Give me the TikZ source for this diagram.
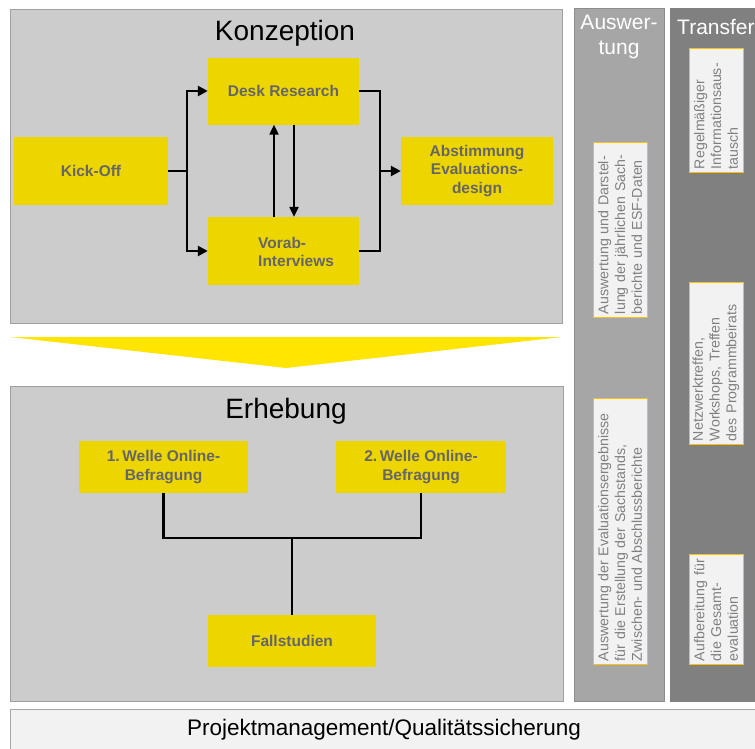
\documentclass[tikz,border=0pt]{standalone}
\usepackage{fontspec}
\setmainfont{Liberation Sans}
\usetikzlibrary{arrows.meta}
\definecolor{panelbg}{HTML}{CCCCCC}
\definecolor{panelbd}{HTML}{A0A0A0}
\definecolor{yfill}{HTML}{EDD500}
\definecolor{ytext}{HTML}{666666}
\definecolor{chev}{HTML}{FFE500}
\definecolor{auscol}{HTML}{A6A6A6}
\definecolor{auscolbd}{HTML}{8C8C8C}
\definecolor{trcol}{HTML}{808080}
\definecolor{notebg}{HTML}{F2F2F2}
\definecolor{notebd}{HTML}{FFC000}
\definecolor{notetx}{HTML}{808080}
\begin{document}
\begin{tikzpicture}[x=1pt,y=-1pt,
  panel/.style={draw=panelbd, fill=panelbg, line width=1pt},
  ybox/.style={fill=yfill, text=ytext, font=\fontsize{15.5}{18.5}\selectfont\bfseries, align=center, inner sep=2pt},
  conn/.style={line width=2.7pt, black},
  arr/.style={conn, -{Triangle[length=10pt,width=10pt]}},
  varr/.style={line width=2.2pt, black, -{Triangle[length=10pt,width=9pt]}},
  note/.style={draw=notebd, fill=notebg, line width=1pt, text=notetx, rotate=90, align=left, inner sep=3pt, font=\fontsize{14.2}{16.7}\selectfont},
  ttl/.style={font=\fontsize{28}{32}\selectfont, inner sep=0pt},
  coltitle/.style={text=white, font=\fontsize{21}{25}\selectfont, inner sep=0pt}
]
\useasboundingbox (0,0) rectangle (755,748);
\clip (0,0) rectangle (755,748);
\fill[white] (0,0) rectangle (755,748);

% Konzeption panel
\draw[panel] (10,9) rectangle (562,323);
\node[ttl] (tk) at (285,33) {Konzeption};
\node[ybox, minimum width=151pt, minimum height=67pt] (desk) at (283.5,91) {Desk Research};
\node[ybox, minimum width=154pt, minimum height=68pt] (kick) at (91,171) {Kick-Off};
\node[ybox, minimum width=151pt, minimum height=68pt] (vorab) at (283.5,251) {};
\node[text=ytext, font=\fontsize{15.5}{18.5}\selectfont\bfseries, align=left, anchor=west, inner sep=0pt] (vorabt) at (258,252) {Vorab-\\Interviews};
\node[ybox, minimum width=152pt, minimum height=68pt] (abst) at (477,171) {Abstimmung\\Evaluations-\\design};

\coordinate (j1) at (187,171);
\coordinate (j2) at (380,171);
\draw[conn] (kick.east) -- (j1);
\draw[arr] (j1) |- (desk.west);
\draw[arr] (j1) |- (vorab.west);
\draw[varr] ([xshift=-9.5pt]vorab.north) -- ([xshift=-9.5pt]desk.south);
\draw[varr] ([xshift=10.5pt]desk.south) -- ([xshift=10.5pt]vorab.north);
\draw[conn] (desk.east) -| (j2);
\draw[conn] (vorab.east) -| (j2);
\draw[arr] (j2) -- (abst.west);

% chevron
\fill[chev] (10,337) -- (562,337) -- (286,368) -- cycle;

% Erhebung panel
\draw[panel] (10,386) rectangle (563,701);
\node[ttl] (te) at (286,411) {Erhebung};
\node[ybox, minimum width=169pt, minimum height=52pt] (w1) at (163.5,467) {1.\,Welle Online-\\Befragung};
\node[ybox, minimum width=170pt, minimum height=52pt] (w2) at (421,467) {2.\,Welle Online-\\Befragung};
\node[ybox, minimum width=168pt, minimum height=52pt] (fall) at (292,641) {Fallstudien};
\coordinate (j3) at (292,538);
\draw[conn] (w1.south) -- (w1.south |- j3) -- (w2.south |- j3) -- (w2.south);
\draw[conn] (j3) -- (fall.north);

% right columns
\draw[draw=auscolbd, fill=auscol, line width=1pt] (574,8) rectangle (664,701);
\node[coltitle, align=center, anchor=north] (ta) at (619,15) {Auswer-\\tung};
\draw[draw=trcol, fill=trcol, line width=1pt] (670,8) rectangle (770,701);
\node[coltitle, anchor=base west] (tt) at (677,34) {Transfer};

\node[note, minimum width=175pt, minimum height=54pt, text width=169pt] (a1) at (620,229.5)
  {Auswertung und Darstel-\\lung der jährlichen Sach-\\berichte und ESF-Daten};
\node[note, minimum width=266pt, minimum height=54pt, text width=260pt] (a2) at (620,531)
  {Auswertung der Evaluationsergebnisse\\für die Erstellung der Sachstands,\\Zwischen- und Abschlussberichte};
\node[note, minimum width=124pt, minimum height=54pt, text width=118pt] (t1) at (716,110)
  {Regelmäßiger\\Informationsaus-\\tausch};
\node[note, minimum width=162pt, minimum height=54pt, text width=156pt] (t2) at (716,363)
  {Netzwerktreffen,\\Workshops, Treffen\\des Programmbeirats};
\node[note, minimum width=110pt, minimum height=54pt, text width=104pt] (t3) at (716,609)
  {Aufbereitung für\\die Gesamt-\\evaluation};

% bottom bar
\draw[draw=auscol, fill=notebg, line width=1pt] (10,709) rectangle (775,760);
\node[font=\fontsize{22.5}{26}\selectfont, inner sep=0pt] (pm) at (384,730) {Projektmanagement/Qualitätssicherung};
\end{tikzpicture}
\end{document}
